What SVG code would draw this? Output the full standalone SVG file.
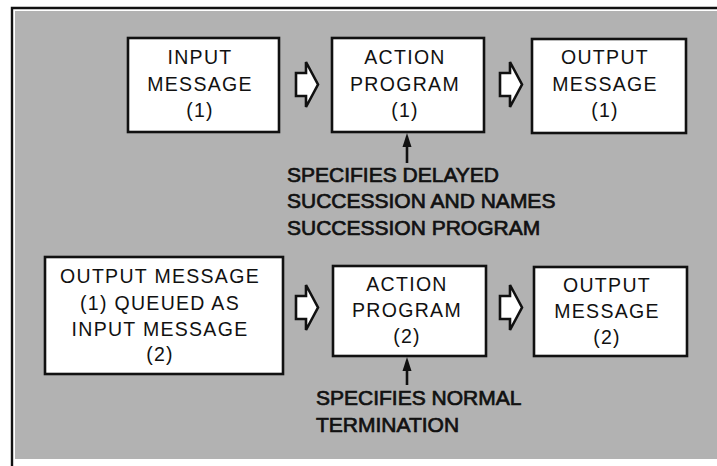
<svg xmlns="http://www.w3.org/2000/svg" width="717" height="466" viewBox="0 0 717 466">
  <style>
    .box { fill: #ffffff; stroke: #111111; stroke-width: 2.6; }
    .label { font-family: "Liberation Sans", Arial, Helvetica, sans-serif; font-size: 19.5px; letter-spacing: 1.3px; fill: #111111; text-anchor: middle; }
    .note { font-family: "Liberation Sans", Arial, Helvetica, sans-serif; font-size: 21px; fill: #111111; stroke: #111111; stroke-width: 0.7; }
    .flow { fill: #ffffff; stroke: #111111; stroke-width: 2.6; stroke-linejoin: miter; }
    .lead { stroke: #111111; stroke-width: 2.6; fill: none; }
    .head { fill: #111111; }
  </style>
  <defs>
    <!-- hollow block arrow, tip at origin -->
    <path id="blockArrow" class="flow" d="M-22,-11.5 H-12 V-22.5 L0,0 L-12,22.5 V11.5 H-22 Z"/>
  </defs>

  <!-- panel -->
  <rect x="0" y="0" width="717" height="466" fill="#ffffff"/>
  <rect x="15" y="11" width="702" height="448" fill="#b2b2b2"/>
  <path d="M12,466 V8 H717" fill="none" stroke="#111111" stroke-width="2.4"/>

  <!-- nodes -->
  <g id="input-message-1">
    <rect class="box" x="128" y="38" width="151" height="94"/>
    <text class="label" x="200" y="64">INPUT</text>
    <text class="label" x="200" y="91">MESSAGE</text>
    <text class="label" x="200" y="117">(1)</text>
  </g>
  <g id="action-program-1">
    <rect class="box" x="332" y="38" width="152" height="94"/>
    <text class="label" x="405" y="64">ACTION</text>
    <text class="label" x="405" y="91">PROGRAM</text>
    <text class="label" x="405" y="117">(1)</text>
  </g>
  <g id="output-message-1">
    <rect class="box" x="532" y="39" width="154" height="94"/>
    <text class="label" x="605" y="64">OUTPUT</text>
    <text class="label" x="605" y="91">MESSAGE</text>
    <text class="label" x="605" y="117">(1)</text>
  </g>
  <g id="queued-input-message-2">
    <rect class="box" x="45" y="257" width="238" height="117"/>
    <text class="label" x="160" y="283">OUTPUT MESSAGE</text>
    <text class="label" x="160" y="310">(1) QUEUED AS</text>
    <text class="label" x="160" y="336">INPUT MESSAGE</text>
    <text class="label" x="160" y="361">(2)</text>
  </g>
  <g id="action-program-2">
    <rect class="box" x="333" y="266" width="153" height="90"/>
    <text class="label" x="407" y="291">ACTION</text>
    <text class="label" x="407" y="317">PROGRAM</text>
    <text class="label" x="407" y="343">(2)</text>
  </g>
  <g id="output-message-2">
    <rect class="box" x="534" y="267" width="153" height="89"/>
    <text class="label" x="607" y="292">OUTPUT</text>
    <text class="label" x="607" y="318">MESSAGE</text>
    <text class="label" x="607" y="344">(2)</text>
  </g>

  <!-- connectors -->
  <g id="connectors">
    <use href="#blockArrow" x="318" y="84.5"/>
    <use href="#blockArrow" x="522" y="84.5"/>
    <use href="#blockArrow" x="318" y="307.5"/>
    <use href="#blockArrow" x="522" y="307.5"/>
    <line class="lead" x1="407" y1="163" x2="407" y2="142"/>
    <polygon class="head" points="407,133 402.5,147 411.5,147"/>
    <line class="lead" x1="407" y1="385" x2="407" y2="366"/>
    <polygon class="head" points="407,357 402.5,371 411.5,371"/>
  </g>

  <!-- annotations -->
  <g id="note-delayed">
    <text class="note" x="287" y="182">SPECIFIES DELAYED</text>
    <text class="note" x="287" y="208">SUCCESSION AND NAMES</text>
    <text class="note" x="287" y="235">SUCCESSION PROGRAM</text>
  </g>
  <g id="note-normal">
    <text class="note" x="316" y="405">SPECIFIES NORMAL</text>
    <text class="note" x="316" y="432">TERMINATION</text>
  </g>
</svg>
